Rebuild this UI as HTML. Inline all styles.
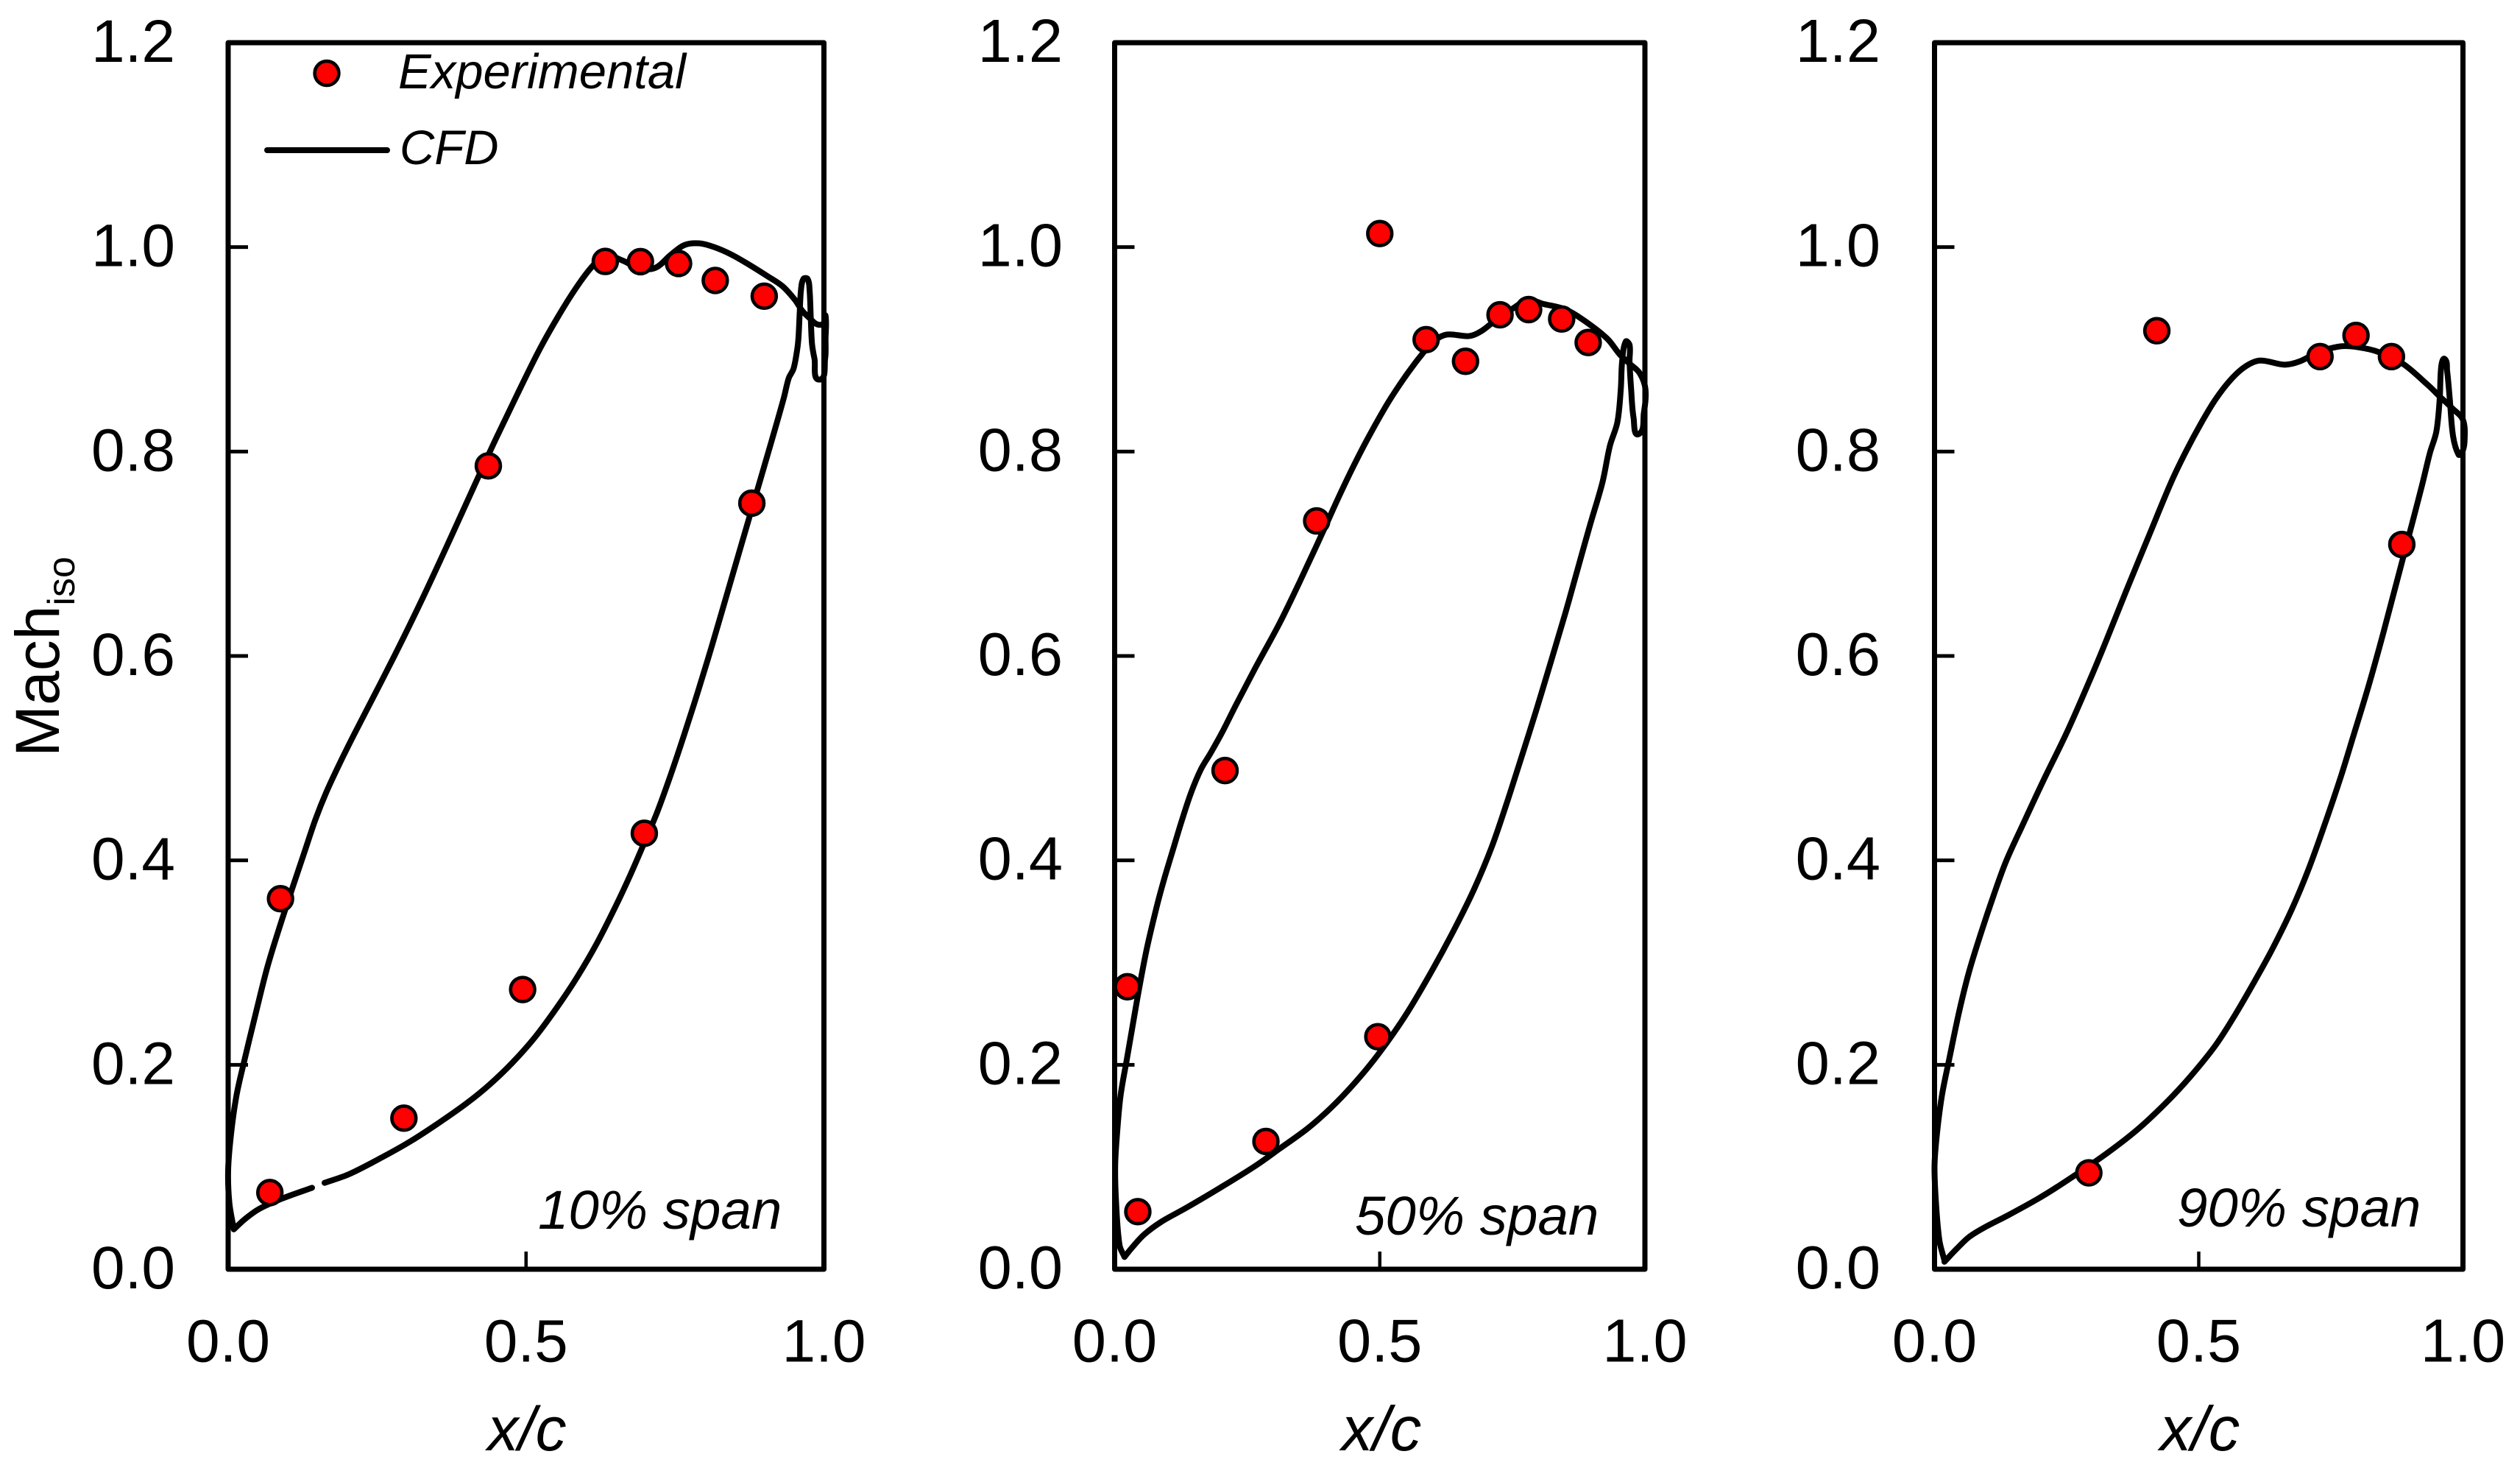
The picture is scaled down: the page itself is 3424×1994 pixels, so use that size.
<!DOCTYPE html>
<html lang="en">
<head>
<meta charset="utf-8">
<title>Isentropic Mach number distributions at three span positions</title>
<style>
html,body{margin:0;padding:0;background:#fff;}
svg{display:block;}
text{font-family:"Liberation Sans",Arial,sans-serif;fill:#000;}
.it{font-style:italic;}
</style>
</head>
<body>
<svg id="chart" xmlns="http://www.w3.org/2000/svg" width="3424" height="1994" viewBox="0 0 3424 1994">
  <rect x="0" y="0" width="3424" height="1994" fill="#fff"/>
  <g id="panels"></g>

  <g>
    <circle cx="444" cy="99.5" r="16.4" fill="#ff0000" stroke="#000" stroke-width="4.6"/>
    <text class="it" x="541" y="120" font-size="67">Experimental</text>
    <line x1="363" y1="204" x2="526" y2="204" stroke="#000" stroke-width="8" stroke-linecap="round"/>
    <text class="it" x="543" y="223" font-size="65.5">CFD</text>
  </g>

  <text transform="translate(80,1028) rotate(-90)" font-size="84">Mach<tspan font-size="52" dy="21">iso</tspan></text>

  <text class="it" x="716" y="1970" font-size="84" text-anchor="middle">x/c</text>
  <text class="it" x="1877" y="1970" font-size="85" text-anchor="middle">x/c</text>
  <text class="it" x="2989" y="1970" font-size="85" text-anchor="middle">x/c</text>

  <text class="it" x="731" y="1669" font-size="74.5">10% span</text>
  <text class="it" x="1841" y="1677" font-size="74.5">50% span</text>
  <text class="it" x="2958" y="1666" font-size="74.5">90% span</text>
</svg>

<script>
// Axis tick values
const yTicks = [0.0, 0.2, 0.4, 0.6, 0.8, 1.0, 1.2];
const xTicks = [0.0, 0.5, 1.0];
const yTickLabels = ["0.0", "0.2", "0.4", "0.6", "0.8", "1.0", "1.2"];
const xTickLabels = ["0.0", "0.5", "1.0"];

// Experimental points
const expXc10 = [0.07, 0.0879, 0.295, 0.4943, 0.6985, 0.879, 0.4367, 0.633, 0.692, 0.756, 0.8176, 0.8998];
const expMach10 = [0.075, 0.3625, 0.1478, 0.2737, 0.4265, 0.7495, 0.786, 0.986, 0.9858, 0.984, 0.9674, 0.952];
const expXc50 = [0.0242, 0.0437, 0.2082, 0.2853, 0.381, 0.4963, 0.5, 0.5874, 0.6617, 0.7268, 0.7807, 0.843, 0.893];
const expMach50 = [0.2764, 0.0563, 0.4879, 0.125, 0.7321, 0.2275, 1.0133, 0.9095, 0.8883, 0.9338, 0.9389, 0.9297, 0.9067];
const expXc90 = [0.292, 0.4207, 0.7295, 0.7976, 0.8647, 0.8843];
const expMach90 = [0.0943, 0.9182, 0.8929, 0.9136, 0.8929, 0.7091];

// CFD blade-loading loops: leading edge -> suction side -> trailing edge -> pressure side -> leading edge
// null marks a break in the plotted line
const cfdXc10 = [0.0095,0.002,0,0.005,0.014,0.0255,0.047,0.066,0.087,0.109,0.128,0.1465,0.165,0.189,0.213,0.279,0.326,0.373,0.4206,0.449,0.487,0.5246,0.562,0.591,0.614,0.633,0.6616,0.692,0.718,0.742,0.7656,0.7906,0.8153,0.8441,0.873,0.9059,0.9306,0.9512,0.9636,0.9759,0.9883,0.9986,1.0027,1.0027,1.002,0.9924,0.9841,0.98,0.978,0.9759,0.9726,0.9656,0.9615,0.9594,0.9574,0.9553,0.9491,0.9409,0.9327,0.912,0.888,0.874,0.846,0.813,0.789,0.766,0.743,0.72,0.699,0.676,0.652,0.619,0.586,0.553,0.515,0.477,0.4395,0.4017,0.3544,0.307,0.26,0.203,0.1618,null,0.1408,0.09,0.052,0.028,0.0095];
const cfdMach10 = [0.039,0.065,0.097,0.133,0.17,0.2,0.252,0.296,0.336,0.375,0.408,0.44,0.467,0.497,0.525,0.6,0.656,0.715,0.776,0.812,0.858,0.902,0.94,0.966,0.983,0.992,0.987,0.979,0.98,0.992,1.002,1.0037,1.0001,0.9929,0.9833,0.9713,0.9617,0.9485,0.9377,0.9305,0.9245,0.925,0.9329,0.9101,0.8909,0.8704,0.8909,0.9053,0.9293,0.9581,0.9689,0.9689,0.9581,0.9365,0.9125,0.9005,0.8813,0.8717,0.8525,0.81,0.762,0.734,0.678,0.612,0.566,0.524,0.484,0.447,0.418,0.387,0.357,0.319,0.286,0.257,0.227,0.202,0.181,0.163,0.1435,0.1255,0.11,0.093,0.0845,null,0.0797,0.069,0.059,0.049,0.039];
const cfdXc50 = [0.0186,0.0093,0.0028,0.001,0.0046,0.0112,0.0232,0.0418,0.06,0.079,0.093,0.1115,0.1255,0.144,0.1626,0.181,0.2045,0.2277,0.265,0.311,0.3485,0.395,0.423,0.4507,0.4786,0.5158,0.553,0.5855,0.604,0.627,0.669,0.692,0.7156,0.748,0.78,0.8086,0.85,0.8875,0.929,0.9526,0.971,0.99,1.001,0.998,0.988,0.9786,0.974,0.971,0.9712,0.9638,0.957,0.9545,0.948,0.934,0.92,0.897,0.878,0.85,0.8225,0.7946,0.7807,0.7574,0.7388,0.711,0.678,0.641,0.5994,0.553,0.511,0.469,0.418,0.367,0.3113,0.265,0.2,0.1348,0.0883,0.0558,0.0325,0.0186];
const cfdMach50 = [0.012,0.0233,0.0645,0.101,0.133,0.17,0.206,0.262,0.312,0.354,0.381,0.413,0.437,0.466,0.489,0.505,0.527,0.551,0.588,0.632,0.672,0.724,0.756,0.786,0.814,0.848,0.877,0.899,0.909,0.9145,0.913,0.918,0.9274,0.939,0.948,0.9444,0.939,0.9274,0.9104,0.895,0.886,0.8768,0.861,0.8378,0.817,0.833,0.861,0.888,0.904,0.9076,0.888,0.861,0.8285,0.8056,0.77,0.729,0.694,0.642,0.594,0.546,0.523,0.485,0.455,0.413,0.372,0.333,0.293,0.252,0.22,0.192,0.163,0.139,0.118,0.101,0.08,0.06,0.0465,0.034,0.021,0.012];
const cfdXc90 = [0.0187,0.0093,0.0028,0,0.0047,0.014,0.028,0.0466,0.0653,0.0886,0.112,0.1353,0.168,0.205,0.252,0.2985,0.3265,0.3638,0.41,0.4478,0.4757,0.5037,0.5317,0.56,0.5877,0.6157,0.662,0.69,0.7276,0.7696,0.802,0.8396,0.886,0.933,0.956,0.9795,1.0,1.003,0.998,0.9916,0.9813,0.975,0.97,0.9655,0.959,0.956,0.9496,0.9375,0.9235,0.905,0.877,0.849,0.821,0.791,0.7696,0.7416,0.709,0.676,0.639,0.606,0.569,0.5317,0.485,0.4384,0.3825,0.317,0.2425,0.196,0.14,0.0933,0.0653,0.042,0.0187];
const cfdMach90 = [0.0087,0.0279,0.0645,0.101,0.133,0.17,0.206,0.252,0.291,0.33,0.366,0.399,0.436,0.477,0.527,0.582,0.617,0.665,0.723,0.77,0.8,0.827,0.851,0.87,0.883,0.889,0.885,0.888,0.8975,0.903,0.902,0.8975,0.886,0.8654,0.8539,0.8424,0.831,0.81,0.7987,0.797,0.815,0.8516,0.879,0.8906,0.8837,0.8516,0.8194,0.7987,0.769,0.732,0.677,0.622,0.57,0.519,0.483,0.44,0.393,0.352,0.313,0.282,0.249,0.219,0.189,0.163,0.136,0.11,0.084,0.069,0.053,0.0405,0.0315,0.02,0.0073];

const SVG_NS = "http://www.w3.org/2000/svg";
const panelsRoot = document.getElementById("panels");

function make(tag, parent, attrs) {
  const el = document.createElementNS(SVG_NS, tag);
  Object.keys(attrs).forEach(function (k) { el.setAttribute(k, attrs[k]); });
  parent.appendChild(el);
  return el;
}

// Unit tangent at point i of a run
function tangentAt(pts, i) {
  const a = pts[Math.max(i - 1, 0)];
  const b = pts[Math.min(i + 1, pts.length - 1)];
  const dx = b[0] - a[0];
  const dy = b[1] - a[1];
  const len = Math.hypot(dx, dy) || 1;
  return [dx / len, dy / len];
}

// Smooth curve through one unbroken run, with handles scaled to segment length
function smoothPath(pts) {
  let d = "M" + pts[0][0].toFixed(2) + " " + pts[0][1].toFixed(2);
  for (let i = 0; i < pts.length - 1; i++) {
    const p1 = pts[i];
    const p2 = pts[i + 1];
    const seg = Math.hypot(p2[0] - p1[0], p2[1] - p1[1]) / 3;
    const u1 = tangentAt(pts, i);
    const u2 = tangentAt(pts, i + 1);
    d += "C" + (p1[0] + u1[0] * seg).toFixed(2) + " " + (p1[1] + u1[1] * seg).toFixed(2) +
         " " + (p2[0] - u2[0] * seg).toFixed(2) + " " + (p2[1] - u2[1] * seg).toFixed(2) +
         " " + p2[0].toFixed(2) + " " + p2[1].toFixed(2);
  }
  return d;
}

function drawPanel(id, box, xs, ys, ex, ey) {
  const sx = function (t) { return box.left + t * (box.right - box.left); };
  const sy = function (m) { return box.bottom - (m / 1.2) * (box.bottom - box.top); };

  const g = make("g", panelsRoot, {});
  
  

  const frame = make("rect", g, {
    x: box.left, y: box.top, width: box.right - box.left, height: box.bottom - box.top,
    fill: "none", stroke: "#000", "stroke-width": 7, "stroke-linejoin": "round"
  });
  
  

  yTicks.forEach(function (v, i) {
    if (v > 0 && v < 1.2) {
      const tick = make("line", g, {
        x1: box.left, x2: box.left + 27, y1: sy(v), y2: sy(v), stroke: "#000", "stroke-width": 5
      });
      
      
    }
    const lab = make("text", g, {
      x: box.labelRight, y: sy(v) + 26, "font-size": box.fontSize, "text-anchor": "end"
    });
    lab.textContent = yTickLabels[i];
    
    
  });

  xTicks.forEach(function (t, i) {
    if (t > 0 && t < 1) {
      const tick = make("line", g, {
        x1: sx(t), x2: sx(t), y1: box.bottom, y2: box.bottom - 24, stroke: "#000", "stroke-width": 4.5
      });
      
      
    }
    const lab = make("text", g, {
      x: sx(t), y: 1849.5, "font-size": box.fontSize, "text-anchor": "middle"
    });
    lab.textContent = xTickLabels[i];
    
    
  });

  // CFD line: split the series at null breaks
  const runs = [[]];
  xs.forEach(function (t, i) {
    if (t === null || ys[i] === null) { runs.push([]); }
    else { runs[runs.length - 1].push([sx(t), sy(ys[i])]); }
  });
  let d = "";
  runs.forEach(function (run) { if (run.length > 1) { d += smoothPath(run); } });
  const curve = make("path", g, {
    d: d, fill: "none", stroke: "#000", "stroke-width": 8,
    "stroke-linecap": "round", "stroke-linejoin": "round"
  });
  
  

  ex.forEach(function (t, i) {
    const dot = make("circle", g, {
      cx: sx(t), cy: sy(ey[i]), r: 16.4, fill: "#ff0000", stroke: "#000", "stroke-width": 4.6
    });
    
    
  });
}

drawPanel("10", {left: 310, right: 1119.5, top: 58, bottom: 1724, labelRight: 238, fontSize: 82}, cfdXc10, cfdMach10, expXc10, expMach10);
drawPanel("50", {left: 1514.5, right: 2235, top: 58, bottom: 1724, labelRight: 1444, fontSize: 83}, cfdXc50, cfdMach50, expXc50, expMach50);
drawPanel("90", {left: 2628.5, right: 3346.5, top: 58, bottom: 1724, labelRight: 2555, fontSize: 83}, cfdXc90, cfdMach90, expXc90, expMach90);
</script>
</body>
</html>
